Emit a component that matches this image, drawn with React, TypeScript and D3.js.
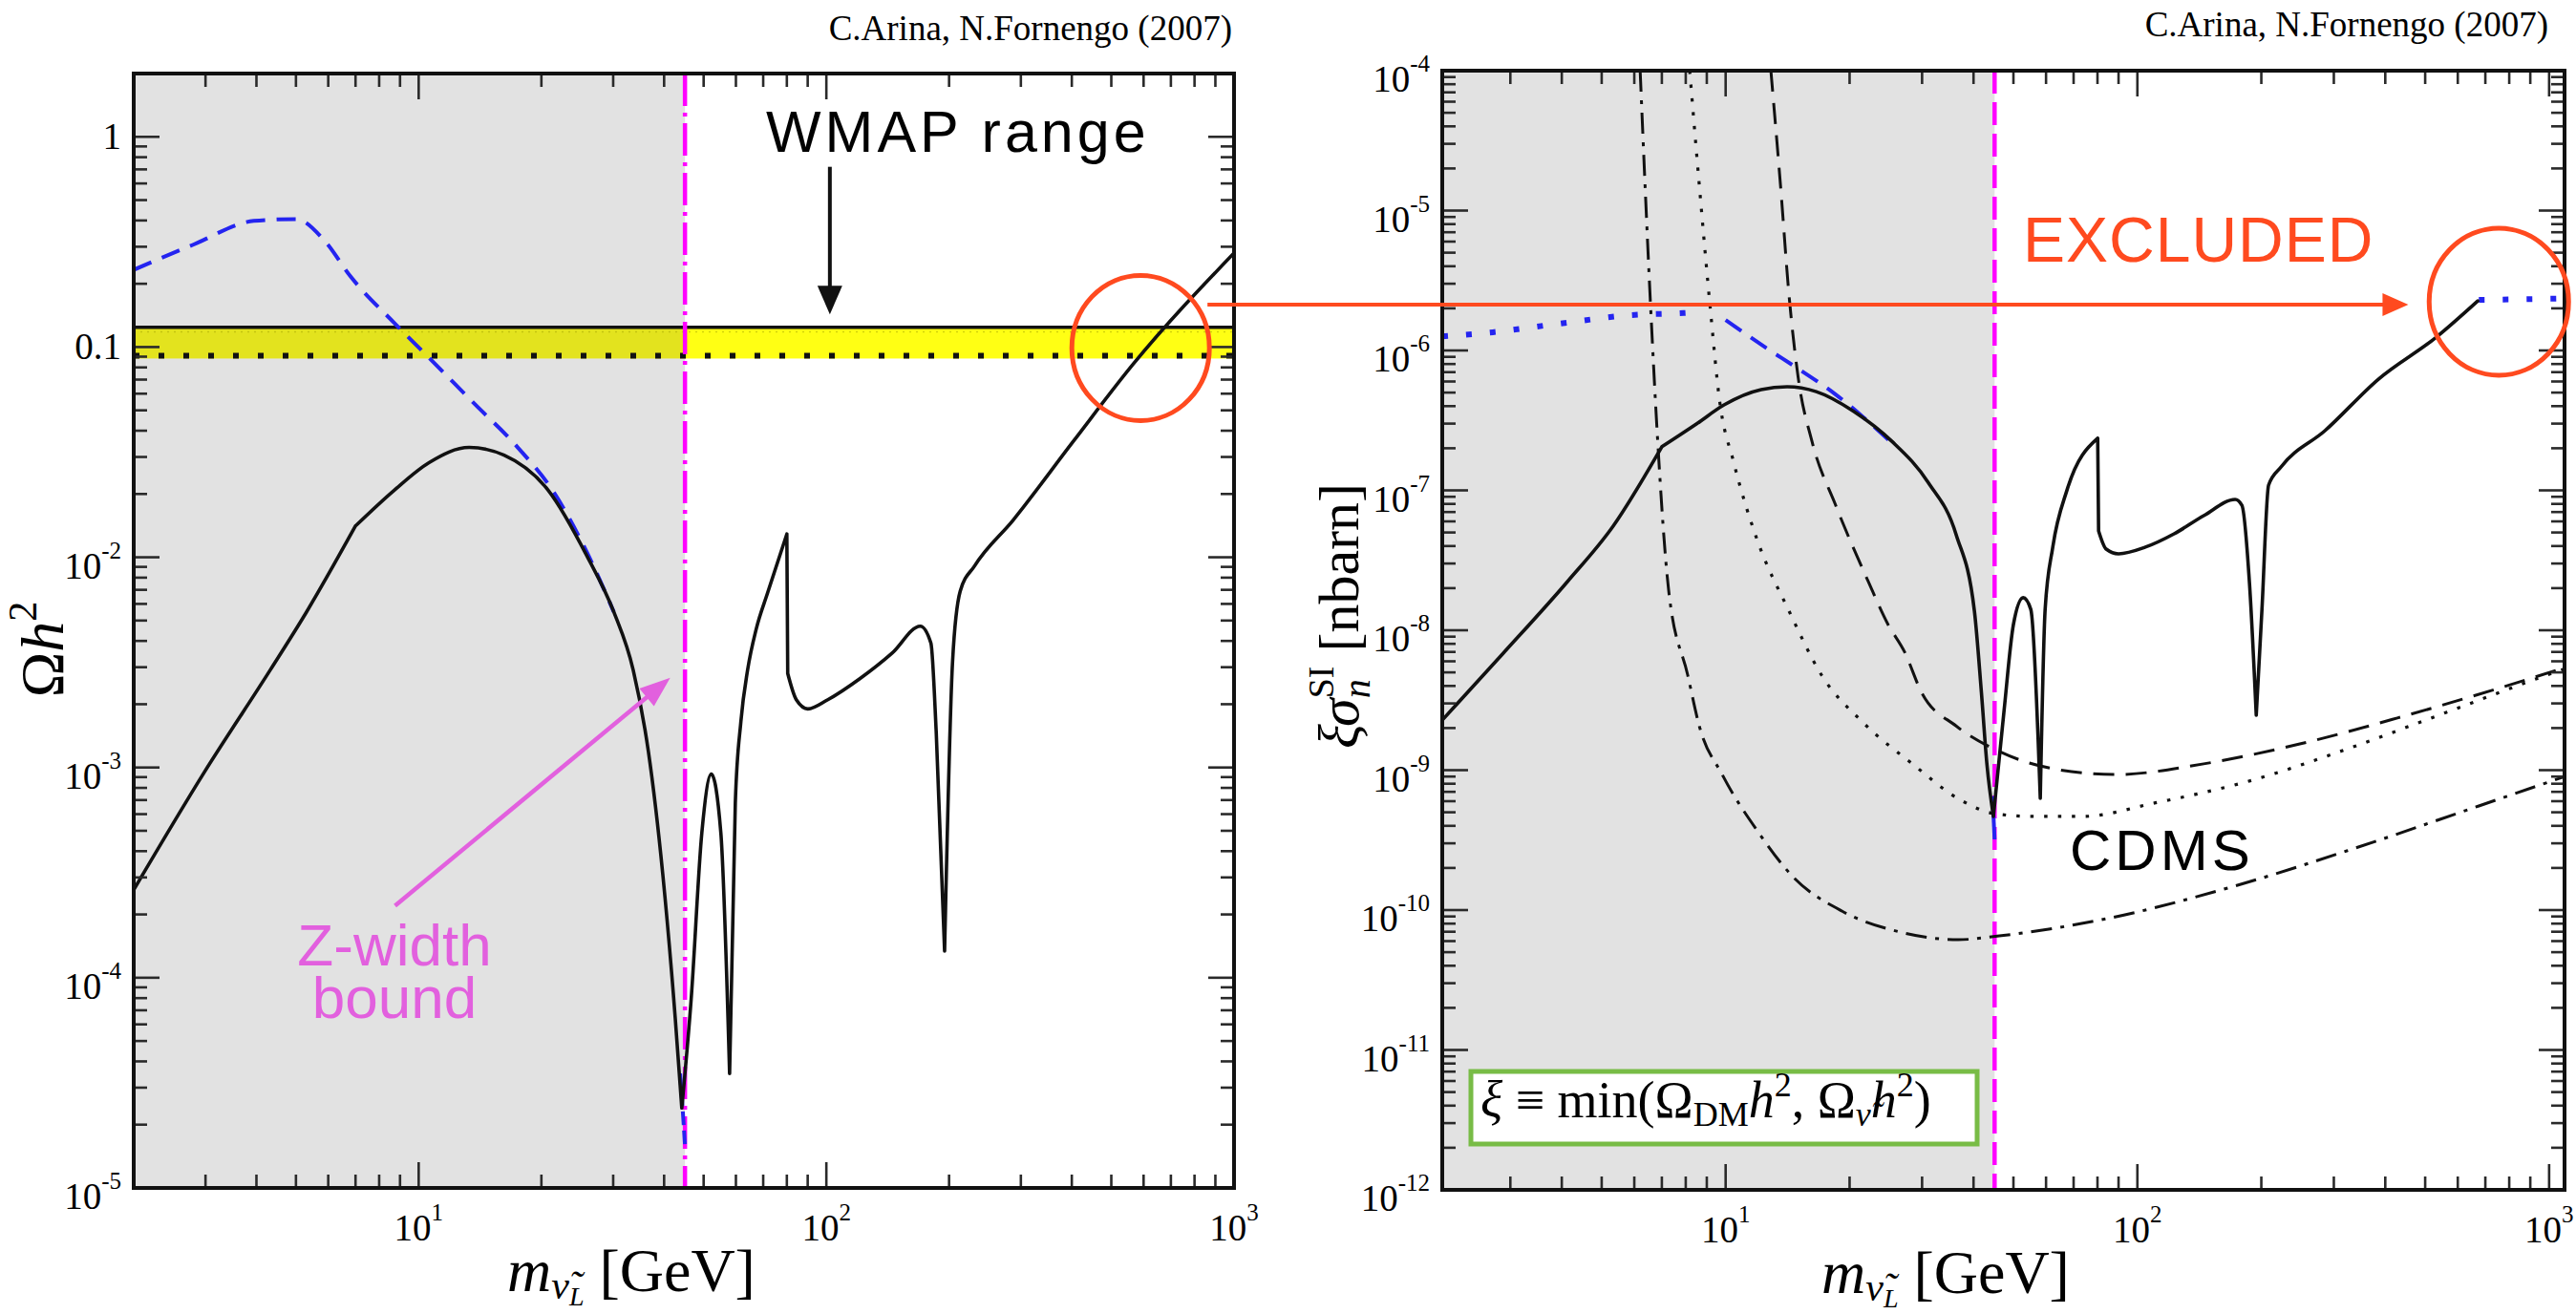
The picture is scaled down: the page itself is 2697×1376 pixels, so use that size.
import React from "react";
import * as d3 from "d3";

type Pt = [number, number];

// ---------------- data ----------------
// Left panel: relic abundance Omega h^2 vs sneutrino mass [GeV]
const omegaBlack: Pt[] = [
  [2, 2.62e-4], [2.98, 9.5e-4], [4.32, 2.9e-3], [5.31, 5.5e-3], [7.0, 0.0141], [8.7, 0.0208],
  [10.6, 0.0282], [13.3, 0.0333], [16.2, 0.0306], [20.8, 0.0208], [25.9, 0.0101], [30.1, 5.5e-3],
  [33.6, 2.9e-3], [36.6, 1.19e-3], [39.7, 3.1e-4], [42.6, 6.4e-5], [44.2, 2.4e-5], [46.6, 7.9e-5],
  [49.5, 4.9e-4], [52.2, 9.3e-4], [55.1, 4.9e-4], [57.9, 3.5e-5], [59.8, 6.8e-4], [61.7, 1.65e-3],
  [64.1, 2.91e-3], [67.3, 4.56e-3], [71.8, 6.79e-3], [80.0, 0.0129], [80.4, 2.8e-3], [84.4, 2.1e-3],
  [90.1, 1.9e-3], [100.8, 2.1e-3], [121, 2.65e-3], [145, 3.5e-3], [170, 4.7e-3], [180.5, 3.9e-3],
  [186, 1.47e-3], [195, 1.34e-4], [204, 3.2e-3], [213, 6.9e-3], [231, 9.1e-3], [287, 0.015],
  [403, 0.0355], [566, 0.083], [1000, 0.28],
];
// masses where the curve has a sharp corner (kink, resonance dip, threshold peak)
const omegaCusps = [7.0, 44.2, 57.9, 80.0, 80.4, 195];
const omegaBlueDashed: Pt[] = [
  [2, 0.233], [2.79, 0.306], [3.94, 0.398], [5.0, 0.406], [5.88, 0.32], [6.8, 0.217], [8.72, 0.13],
  [10.6, 0.089], [13.6, 0.0545], [17.5, 0.0333], [21.3, 0.0208], [25.9, 0.0105], [30.1, 5.5e-3],
];
const omegaBlueDip: Pt[] = [[43.8, 3.5e-5], [44.6, 2.1e-5], [45.0, 1.6e-5]];
const wmapLow = 0.091;
const wmapHigh = 0.124;
const zWidthMass = 45;

// Right panel: xi * sigma_n^SI [nbarn] vs sneutrino mass [GeV]
const sigmaBlack: Pt[] = [
  [2.05, 2.28e-9], [2.87, 6.75e-9], [4.13, 2.23e-8], [5.33, 5.55e-8], [7.0, 2.05e-7], [8.49, 2.98e-7],
  [9.91, 4.08e-7], [12.2, 5.25e-7], [14.1, 5.5e-7], [16.6, 5.08e-7], [20.5, 3.66e-7], [25.3, 2.25e-7],
  [31.1, 1.13e-7], [36.3, 4.82e-8], [40.2, 1.37e-8], [41.8, 3.6e-9], [43.1, 1.11e-9], [44.7, 4.67e-10],
  [47.4, 2.59e-9], [50.0, 1.1e-8], [52.8, 1.71e-8], [55.1, 1.41e-8], [58.1, 6.3e-10], [59.7, 1.41e-8],
  [62.3, 3.93e-8], [67.5, 1.01e-7], [80.1, 2.36e-7], [80.5, 5.13e-8], [84.0, 3.8e-8], [90.0, 3.52e-8],
  [104.6, 3.93e-8], [122.8, 4.89e-8], [144.9, 6.59e-8], [172.8, 8.61e-8], [179.4, 7.83e-8],
  [187.2, 2.16e-8], [194.4, 2.47e-9], [200.7, 1.41e-8], [208.3, 1.09e-7], [223.3, 1.47e-7],
  [285.5, 2.67e-7], [385, 6.24e-7], [533, 1.25e-6], [671, 2.26e-6],
];
const sigmaCusps = [7.0, 44.7, 58.1, 80.1, 80.5, 194.4];
const sigmaBlueDotLow: Pt[] = [[2.05, 1.26e-6], [2.72, 1.35e-6], [3.91, 1.55e-6], [5.9, 1.79e-6], [7.9, 1.85e-6], [8.6, 1.88e-6]];
const sigmaBlueDashed: Pt[] = [[10.0, 1.65e-6], [12.5, 1.05e-6], [15.0, 7.4e-7], [18.5, 4.85e-7], [21.6, 3.33e-7], [25.9, 2.05e-7]];
const sigmaBlueDip: Pt[] = [[44.5, 6.5e-10], [45.0, 3.2e-10]];
const sigmaBlueDotHigh: Pt[] = [[675, 2.3e-6], [1090, 2.35e-6]];

const cdmsDashed: Pt[] = [
  [12.88, 1e-4], [13.59, 1.52e-5], [14.26, 2.45e-6], [15.0, 6.44e-7], [16.2, 2.25e-7], [18.5, 7.83e-8],
  [22.2, 2.23e-8], [24.8, 1.1e-8], [27.2, 7.0e-9], [29.9, 3.6e-9], [36.3, 2.07e-9], [46.2, 1.36e-9],
  [64, 1.01e-9], [88.6, 9.3e-10], [144.9, 1.11e-9], [248, 1.54e-9], [428, 2.36e-9], [739, 3.78e-9], [1090, 5.4e-9],
];
const cdmsDotted: Pt[] = [
  [8.18, 1e-4], [8.63, 1.52e-5], [9.2, 1.85e-6], [9.65, 4.56e-7], [10.46, 1.59e-7], [11.9, 4.52e-8],
  [14.26, 1.37e-8], [17.1, 4.78e-9], [21.6, 2.18e-9], [28.4, 1.11e-9], [37.3, 6.09e-10], [45, 4.89e-10],
  [56, 4.67e-10], [73.5, 4.67e-10], [110, 5.82e-10], [190, 8.47e-10], [326, 1.43e-9], [563, 2.59e-9],
  [971, 4.7e-9], [1090, 5.3e-9],
];
const cdmsDashDot: Pt[] = [
  [6.2, 1e-4], [6.57, 2.13e-6], [6.82, 2.59e-7], [7.27, 1.94e-8], [8.09, 4.78e-9], [8.63, 2.07e-9],
  [9.81, 9.3e-10], [12.08, 3.51e-10], [14.57, 1.73e-10], [19.2, 9.8e-11], [26.5, 6.97e-11],
  [36.7, 6.14e-11], [46.2, 6.54e-11], [84.4, 8.69e-11], [169, 1.46e-10], [339, 2.78e-10],
  [675, 5.55e-10], [1090, 9.0e-10],
];

// tick labels
const massTickLabels = [10, 100, 1000];
const omegaTickLabels = [1, 0.1, 1e-2, 1e-3, 1e-4, 1e-5];
const sigmaTickLabels = [1e-4, 1e-5, 1e-6, 1e-7, 1e-8, 1e-9, 1e-10, 1e-11, 1e-12];

// ---------------- layout ----------------
const W = 2697;
const H = 1376;
const SERIF = "'Liberation Serif', 'DejaVu Serif', serif";
const SANS = "'Liberation Sans', Arial, sans-serif";
const GRAY = "#e2e2e2";
const MAGENTA = "#ff00ff";
const BLUE = "#2424f0";
const RED = "#ff4a1f";
const PINK = "#e260de";

const LP = { x0: 140, x1: 1292, y0: 77, y1: 1244 };
const RP = { x0: 1510, x1: 2685, y0: 74, y1: 1246 };

const xL = d3.scaleLog().domain([2, 1000]).range([LP.x0, LP.x1]);
const yL = d3.scaleLog().domain([1e-5, 2]).range([LP.y1, LP.y0]);
const xR = d3.scaleLog().domain([2.05, 1090]).range([RP.x0, RP.x1]);
const yR = d3.scaleLog().domain([1e-12, 1e-4]).range([RP.y1, RP.y0]);

function lineGen(xs: any, ys: any) {
  return d3
    .line<Pt>()
    .x((d) => xs(d[0]))
    .y((d) => ys(d[1]))
    .curve(d3.curveMonotoneX);
}

// smooth pieces joined at sharp corners
function segmentedPath(gen: any, data: Pt[], cusps: number[]) {
  const parts: Pt[][] = [];
  let cur: Pt[] = [];
  data.forEach((d, i) => {
    cur.push(d);
    if (i > 0 && i < data.length - 1 && cusps.indexOf(d[0]) >= 0) {
      parts.push(cur);
      cur = [d];
    }
  });
  parts.push(cur);
  return parts.map((p) => gen(p) || "").join("");
}

function logTicks(domain: number[]) {
  const [a, b] = domain;
  const out: { v: number; major: boolean }[] = [];
  for (let e = Math.floor(Math.log10(a)) - 1; e <= Math.ceil(Math.log10(b)); e++) {
    for (let k = 1; k <= 9; k++) {
      const v = k * Math.pow(10, e);
      if (v > a * 1.002 && v < b * 0.998) out.push({ v, major: k === 1 });
    }
  }
  return out;
}

function Frame({ p, xs, ys }: any) {
  const xt = logTicks(xs.domain());
  const yt = logTicks(ys.domain());
  const st = { stroke: "#2a2a2a", strokeWidth: 2.6 };
  return (
    <g>
      {xt.map((t, i) => {
        const x = xs(t.v);
        const len = t.major ? 27 : 14;
        return (
          <g key={"x" + i}>
            <line x1={x} x2={x} y1={p.y1} y2={p.y1 - len} {...st} />
            <line x1={x} x2={x} y1={p.y0} y2={p.y0 + len} {...st} />
          </g>
        );
      })}
      {yt.map((t, i) => {
        const y = ys(t.v);
        const len = t.major ? 27 : 14;
        return (
          <g key={"y" + i}>
            <line x1={p.x0} x2={p.x0 + len} y1={y} y2={y} {...st} />
            <line x1={p.x1} x2={p.x1 - len} y1={y} y2={y} {...st} />
          </g>
        );
      })}
      <rect x={p.x0} y={p.y0} width={p.x1 - p.x0} height={p.y1 - p.y0} fill="none" stroke="#111" strokeWidth={4} />
    </g>
  );
}

function YLabel({ v, x, y }: any) {
  const e = Math.round(Math.log10(v));
  if (e === 0 || e === -1) {
    return (
      <text x={x} y={y + 13} textAnchor="end" fontFamily={SERIF} fontSize={39}>
        {e === 0 ? "1" : "0.1"}
      </text>
    );
  }
  return (
    <text x={x} y={y + 22} textAnchor="end" fontFamily={SERIF} fontSize={39}>
      10
      <tspan fontSize={25} dy={-21}>{String(e)}</tspan>
    </text>
  );
}

function XLabel({ v, x, y }: any) {
  const e = Math.round(Math.log10(v));
  return (
    <text x={x} y={y} textAnchor="middle" fontFamily={SERIF} fontSize={39}>
      10
      <tspan fontSize={25} dy={-21}>{String(e)}</tspan>
    </text>
  );
}

function Arrow({ x1, y1, x2, y2, color, w, hl, hw }: any) {
  const ang = Math.atan2(y2 - y1, x2 - x1);
  const bx = x2 - hl * Math.cos(ang);
  const by = y2 - hl * Math.sin(ang);
  const px = -Math.sin(ang) * (hw / 2);
  const py = Math.cos(ang) * (hw / 2);
  return (
    <g>
      <line x1={x1} y1={y1} x2={bx + 2 * Math.cos(ang)} y2={by + 2 * Math.sin(ang)} stroke={color} strokeWidth={w} />
      <polygon points={`${x2},${y2} ${bx + px},${by + py} ${bx - px},${by - py}`} fill={color} />
    </g>
  );
}

function XTitle({ x, y }: any) {
  return (
    <text x={x} y={y} fontFamily={SERIF} fontSize={64}>
      <tspan fontStyle="italic">m</tspan>
      <tspan fontSize={42} fontStyle="italic" dy={8}>{"\u03bd\u0303"}</tspan>
      <tspan fontSize={28} fontStyle="italic" dy={7}>L</tspan>
      <tspan dy={-15}>{"\u00a0[GeV]"}</tspan>
    </text>
  );
}

export default function App() {
  const lL = lineGen(xL, yL);
  const lR = lineGen(xR, yR);
  const zxL = xL(zWidthMass);
  const zxR = xR(zWidthMass);

  const ellL = { cx: xL(590), cy: yL(0.099) };
  const ellR = { cx: xR(755), cy: yR(2.23e-6) };
  const redY = yR(2.13e-6);
  const bandTop = yL(wmapHigh);
  const bandH = yL(wmapLow) - yL(wmapHigh) + 3;

  return (
    <svg width={W} height={H} style={{ position: "absolute", left: 0, top: 0, background: "#fff" }}>
      <defs>
        <clipPath id="clipL">
          <rect x={LP.x0} y={LP.y0} width={LP.x1 - LP.x0} height={LP.y1 - LP.y0} />
        </clipPath>
        <clipPath id="clipR">
          <rect x={RP.x0} y={RP.y0} width={RP.x1 - RP.x0} height={RP.y1 - RP.y0} />
        </clipPath>
      </defs>
      <rect x={0} y={0} width={W} height={H} fill="#fff" />

      {/* ---------------- LEFT PANEL ---------------- */}
      <rect x={LP.x0} y={LP.y0} width={zxL - LP.x0} height={LP.y1 - LP.y0} fill={GRAY} />
      <g clipPath="url(#clipL)">
        <rect x={LP.x0} y={bandTop} width={zxL - LP.x0} height={bandH} fill="#e3e31e" />
        <rect x={zxL} y={bandTop} width={LP.x1 - zxL} height={bandH} fill="#ffff14" />
        <line x1={LP.x0} x2={LP.x1} y1={yL(0.118)} y2={yL(0.118)} stroke="#a8a800" strokeOpacity={0.5} strokeWidth={1.5} strokeDasharray="2 5" />
        <line x1={LP.x0} x2={LP.x1} y1={yL(wmapHigh)} y2={yL(wmapHigh)} stroke="#111" strokeWidth={3.5} />
        <line x1={LP.x0} x2={LP.x1} y1={yL(wmapLow)} y2={yL(wmapLow)} stroke="#111" strokeWidth={6} strokeDasharray="6 20" />
        <line x1={zxL} x2={zxL} y1={LP.y0} y2={LP.y1} stroke={MAGENTA} strokeWidth={4.5} strokeDasharray="34 7 4 7" />
        <path d={lL(omegaBlueDashed) || ""} fill="none" stroke={BLUE} strokeWidth={4} strokeDasharray="20 12" />
        <path d={lL(omegaBlueDip) || ""} fill="none" stroke={BLUE} strokeWidth={4} strokeDasharray="14 6" />
        <path
          d={segmentedPath(lL, omegaBlack, omegaCusps)}
          fill="none"
          stroke="#111"
          strokeWidth={3.6}
          strokeLinejoin="round"
          strokeLinecap="round"
        />
      </g>
      <Frame p={LP} xs={xL} ys={yL} />
      {omegaTickLabels.map((v) => (
        <YLabel key={"ly" + v} v={v} x={LP.x0 - 13} y={yL(v)} />
      ))}
      {massTickLabels.map((v) => (
        <XLabel key={"lx" + v} v={v} x={xL(v)} y={LP.y1 + 55} />
      ))}
      <XTitle x={531} y={1352} />
      <text transform="translate(66,680) rotate(-90)" textAnchor="middle" fontFamily={SERIF} fontSize={64}>
        {"\u03a9"}
        <tspan fontStyle="italic">h</tspan>
        <tspan fontSize={42} dy={-28}>2</tspan>
      </text>
      <text x={LP.x1 - 2} y={LP.y0 - 35} textAnchor="end" fontFamily={SERIF} fontSize={37}>
        C.Arina, N.Fornengo (2007)
      </text>

      {/* annotations left */}
      <text x={802} y={159} fontFamily={SANS} fontSize={61} letterSpacing={4}>
        WMAP range
      </text>
      <Arrow x1={xL(102)} y1={yL(0.72)} x2={xL(102)} y2={yL(0.143)} color="#111" w={4} hl={30} hw={26} />
      <Arrow x1={xL(8.75)} y1={yL(2.2e-4)} x2={xL(41.4)} y2={yL(2.67e-3)} color={PINK} w={4.5} hl={32} hw={24} />
      <text x={413} y={1011} textAnchor="middle" fontFamily={SANS} fontSize={62} fill={PINK}>
        <tspan x={413} y={1011}>Z-width</tspan>
        <tspan x={413} y={1066}>bound</tspan>
      </text>

      {/* ---------------- RIGHT PANEL ---------------- */}
      <rect x={RP.x0} y={RP.y0} width={zxR - RP.x0} height={RP.y1 - RP.y0} fill={GRAY} />
      <g clipPath="url(#clipR)">
        <line x1={zxR} x2={zxR} y1={RP.y0} y2={RP.y1} stroke={MAGENTA} strokeWidth={4.5} strokeDasharray="24 9" />
        <path d={lR(cdmsDashed) || ""} fill="none" stroke="#111" strokeWidth={3} strokeDasharray="22 12" />
        <path d={lR(cdmsDotted) || ""} fill="none" stroke="#111" strokeWidth={3.2} strokeDasharray="3.5 11" />
        <path d={lR(cdmsDashDot) || ""} fill="none" stroke="#111" strokeWidth={3} strokeDasharray="22 9 4 9" />
        <path d={lR(sigmaBlueDotLow) || ""} fill="none" stroke={BLUE} strokeWidth={6} strokeDasharray="6 19" />
        <path d={lR(sigmaBlueDashed) || ""} fill="none" stroke={BLUE} strokeWidth={4} strokeDasharray="20 12" />
        <path d={lR(sigmaBlueDip) || ""} fill="none" stroke={BLUE} strokeWidth={4} />
        <path d={lR(sigmaBlueDotHigh) || ""} fill="none" stroke={BLUE} strokeWidth={6} strokeDasharray="6 19" />
        <path
          d={segmentedPath(lR, sigmaBlack, sigmaCusps)}
          fill="none"
          stroke="#111"
          strokeWidth={3.6}
          strokeLinejoin="round"
          strokeLinecap="round"
        />
      </g>
      <Frame p={RP} xs={xR} ys={yR} />
      {sigmaTickLabels.map((v) => (
        <YLabel key={"ry" + v} v={v} x={RP.x0 - 13} y={yR(v)} />
      ))}
      {massTickLabels.map((v) => (
        <XLabel key={"rx" + v} v={v} x={xR(v)} y={RP.y1 + 55} />
      ))}
      <XTitle x={1907} y={1354} />
      <text transform="translate(1422,645) rotate(-90)" textAnchor="middle" fontFamily={SERIF} fontSize={60}>
        <tspan fontStyle="italic">{"\u03be\u03c3"}</tspan>
        <tspan fontSize={40} fontStyle="italic" dy={12}>n</tspan>
        <tspan fontSize={38} dx={-20} dy={-38}>SI</tspan>
        <tspan dy={26}>{"\u00a0[nbarn]"}</tspan>
      </text>
      <text x={RP.x1 - 17} y={RP.y0 - 36} textAnchor="end" fontFamily={SERIF} fontSize={37}>
        C.Arina, N.Fornengo (2007)
      </text>

      {/* legend box */}
      <rect x={1540} y={1122} width={530} height={76} fill="#fff" stroke="#78bc46" strokeWidth={5} />
      <text x={1550} y={1170} fontFamily={SERIF} fontSize={54}>
        <tspan fontStyle="italic">{"\u03be"}</tspan>
        <tspan>{"\u00a0\u2261\u00a0min(\u03a9"}</tspan>
        <tspan fontSize={36} dy={9}>DM</tspan>
        <tspan fontStyle="italic" dy={-9}>h</tspan>
        <tspan fontSize={36} dy={-22}>2</tspan>
        <tspan dy={22}>{",\u00a0\u03a9"}</tspan>
        <tspan fontSize={36} fontStyle="italic" dy={9}>{"\u03bd\u0303"}</tspan>
        <tspan fontStyle="italic" dy={-9}>h</tspan>
        <tspan fontSize={36} dy={-22}>2</tspan>
        <tspan dy={22}>)</tspan>
      </text>

      {/* annotations right */}
      <text x={2118} y={274} fontFamily={SANS} fontSize={66} letterSpacing={1} fill={RED}>
        EXCLUDED
      </text>
      <text x={2167} y={911} fontFamily={SANS} fontSize={60} letterSpacing={4} fill="#000">
        CDMS
      </text>

      {/* red circles and connecting arrow */}
      <ellipse cx={ellL.cx} cy={ellL.cy} rx={72} ry={76} fill="none" stroke={RED} strokeWidth={5} />
      <ellipse cx={ellR.cx} cy={ellR.cy} rx={73} ry={77} fill="none" stroke={RED} strokeWidth={5} />
      <Arrow x1={ellL.cx + 70} y1={redY} x2={xR(455)} y2={redY} color={RED} w={4} hl={27} hw={24} />
    </svg>
  );
}
